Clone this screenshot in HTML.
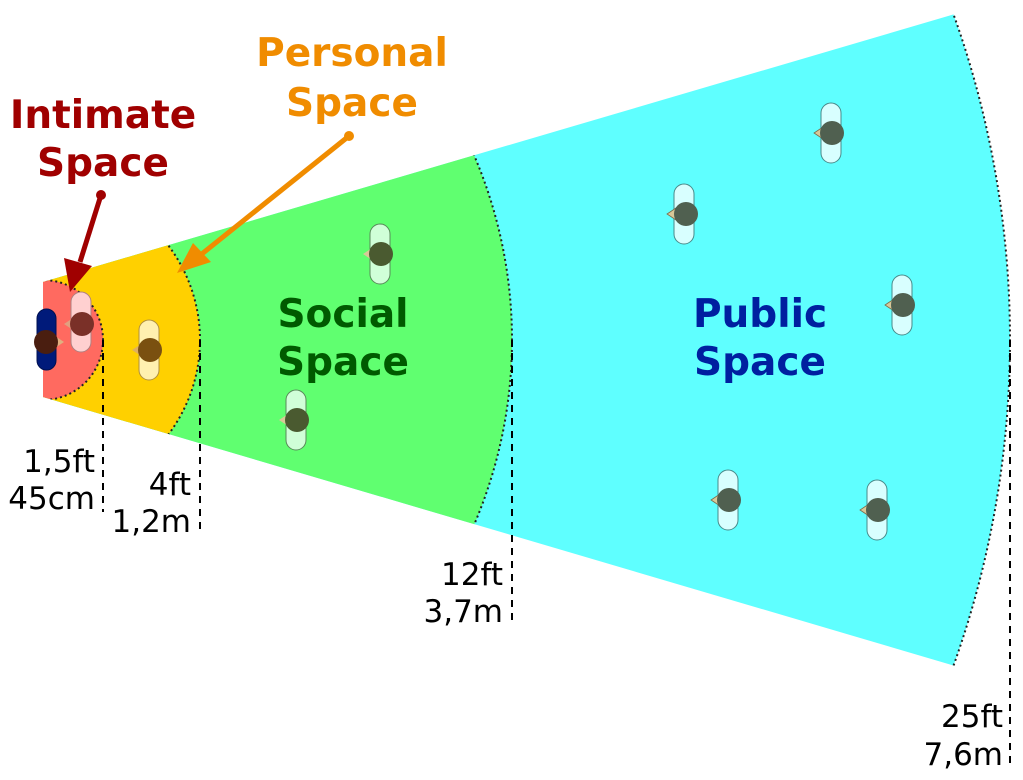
<!DOCTYPE html>
<html><head><meta charset="utf-8"><style>
html,body{margin:0;padding:0;background:#fff;overflow:hidden;width:1023px;height:780px}
svg{display:block}
text{font-family:"DejaVu Sans","Liberation Sans",sans-serif}
</style></head><body>
<svg width="1023" height="780" viewBox="0 0 1023 780" xmlns="http://www.w3.org/2000/svg">
<defs>
<clipPath id="w"><polygon points="43,282 1023,-6 1023,686 43,397"/></clipPath>
</defs>
<g clip-path="url(#w)">
<circle cx="43" cy="340" r="967" fill="#5fffff"/>
<circle cx="43" cy="340" r="469" fill="#60ff70"/>
<circle cx="43" cy="340" r="157" fill="#ffd000"/>
<circle cx="43" cy="340" r="60" fill="#ff6a60"/>
<g fill="none" stroke="#222" stroke-width="2" stroke-dasharray="2,3">
<circle cx="43" cy="340" r="967"/>
<circle cx="43" cy="340" r="469"/>
<circle cx="43" cy="340" r="157"/>
<circle cx="43" cy="340" r="60"/>
</g>
</g>
<g stroke="#000" stroke-width="2" stroke-dasharray="7,6">
<line x1="103" y1="340" x2="103" y2="512"/>
<line x1="200" y1="340" x2="200" y2="535"/>
<line x1="512" y1="340" x2="512" y2="622"/>
<line x1="1010" y1="340" x2="1010" y2="765"/>
</g>
<!-- people -->
<g>
<rect x="37" y="309" width="19" height="61" rx="9.5" fill="#001a7a" stroke="#001050"/>
<path d="M55,336 L64,342 L55,348 Z" fill="#e0b080"/>
<circle cx="46" cy="342" r="12" fill="#4a1e10"/>
<rect x="71" y="292" width="20" height="60" rx="10" fill="#ffd0d0" stroke="#b08080"/>
<path d="M73,318 L64,324 L73,330 Z" fill="#e0a080"/>
<circle cx="82" cy="324" r="12" fill="#7a3028"/>
<rect x="139" y="320" width="20" height="60" rx="10" fill="#fff0b0" stroke="#b09040"/>
<path d="M141,344 L132,350 L141,356 Z" fill="#e0b060"/>
<circle cx="150" cy="350" r="12" fill="#7a5010"/>
</g>
<g fill="#d0ffd8">
<rect x="370" y="224" width="20" height="60" rx="10" stroke="#5a8a5a"/>
<path d="M372,248 L363,254 L372,260 Z" fill="#d8c898"/>
<circle cx="381" cy="254" r="12" fill="#4a5a30"/>
<rect x="286" y="390" width="20" height="60" rx="10" stroke="#5a8a5a"/>
<path d="M288,414 L279,420 L288,426 Z" fill="#d8c898"/>
<circle cx="297" cy="420" r="12" fill="#4a5a30"/>
</g>
<g fill="#d8ffff" stroke="#4a8a8a">
<rect x="674" y="184" width="20" height="60" rx="10"/>
<rect x="821" y="103" width="20" height="60" rx="10"/>
<rect x="892" y="275" width="20" height="60" rx="10"/>
<rect x="718" y="470" width="20" height="60" rx="10"/>
<rect x="867" y="480" width="20" height="60" rx="10"/>
</g>
<g fill="#d8c898" stroke="#7a6a4a" stroke-width="0.8">
<path d="M676,208 L667,214 L676,220 Z"/>
<path d="M823,127 L814,133 L823,139 Z"/>
<path d="M894,299 L885,305 L894,311 Z"/>
<path d="M720,494 L711,500 L720,506 Z"/>
<path d="M869,504 L860,510 L869,516 Z"/>
</g>
<g fill="#506050">
<circle cx="686" cy="214" r="12"/>
<circle cx="832" cy="133" r="12"/>
<circle cx="903" cy="305" r="12"/>
<circle cx="729" cy="500" r="12"/>
<circle cx="878" cy="510" r="12"/>
</g>
<!-- arrows -->
<g stroke="#a00000" fill="#a00000">
<circle cx="101" cy="195" r="5" stroke="none"/>
<line x1="101" y1="195" x2="80" y2="262" stroke-width="5"/>
<path d="M70,292 L64,258 L92,266 Z" stroke="none"/>
</g>
<g stroke="#f08c00" fill="#f08c00">
<circle cx="349" cy="136" r="5" stroke="none"/>
<line x1="349" y1="136" x2="198" y2="257" stroke-width="5"/>
<path d="M177,273 L193,243 L211,262 Z" stroke="none"/>
</g>
<!-- titles -->
<g font-weight="bold" font-size="39" text-anchor="middle">
<text x="103" y="128" fill="#a00000">Intimate</text>
<text x="103" y="176" fill="#a00000">Space</text>
<text x="352" y="66" fill="#f08c00">Personal</text>
<text x="352" y="116" fill="#f08c00">Space</text>
<text x="343" y="327" fill="#005a00">Social</text>
<text x="343" y="375" fill="#005a00">Space</text>
<text x="760" y="327" fill="#0020a0">Public</text>
<text x="760" y="375" fill="#0020a0">Space</text>
</g>
<g font-size="31" text-anchor="end" fill="#000">
<text x="95" y="472">1,5ft</text>
<text x="95" y="509">45cm</text>
<text x="191" y="495">4ft</text>
<text x="191" y="532">1,2m</text>
<text x="503" y="585">12ft</text>
<text x="503" y="622">3,7m</text>
<text x="1003" y="727">25ft</text>
<text x="1003" y="765">7,6m</text>
</g>
</svg>
</body></html>
